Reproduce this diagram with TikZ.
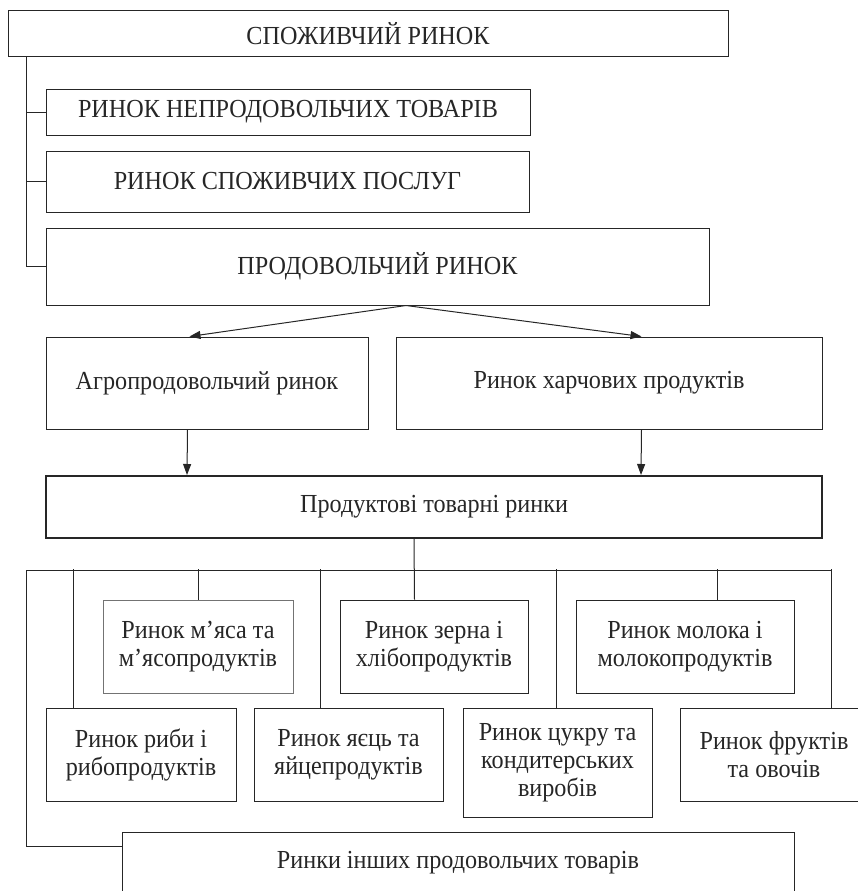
\documentclass[tikz,border=0pt]{standalone}
\usepackage{fontspec}
\setmainfont[FakeStretch=0.93]{Liberation Serif}
\usetikzlibrary{arrows.meta,calc}
\tikzset{
  box/.style={draw=black!85, line width=1pt, inner sep=0pt, align=center, font=\fontsize{26}{28}\selectfont, text=black!85},
  thickbox/.style={box, line width=2pt},
  greybox/.style={box, draw=black!55},
  link/.style={line width=1pt, draw=black!85},
  arr/.style={line width=1pt, draw=black!85, -{Triangle[length=11pt,width=8pt]}}
}
\begin{document}
\begin{tikzpicture}[x=1pt,y=-1pt]
\useasboundingbox (0,0) rectangle (858,891);
\clip (0,0) rectangle (858,891);
\node[box, minimum width=720pt, minimum height=46pt] (top) at (368,34) {СПОЖИВЧИЙ РИНОК};
\node[box, minimum width=484pt, minimum height=46pt] (b1) at (288,112) {РИНОК НЕПРОДОВОЛЬЧИХ ТОВАРІВ};
\node[box, minimum width=483pt, minimum height=61pt] (b2) at (287.5,181.5) {РИНОК СПОЖИВЧИХ ПОСЛУГ};
\node[box, minimum width=663pt, minimum height=77pt] (b3) at (377.5,266.5) {ПРОДОВОЛЬЧИЙ РИНОК};
\node[box, minimum width=322pt, minimum height=92pt] (agro) at (207,383) {Агропродовольчий ринок};
\node[box, minimum width=426pt, minimum height=92pt] (harch) at (609,383) {Ринок харчових продуктів};
\node[thickbox, minimum width=776pt, minimum height=62pt] (prod) at (434,507) {Продуктові товарні ринки};
\node[greybox, minimum width=190pt, minimum height=93pt] (myasa) at (198,646.5) {Ринок м’яса та\\м’ясопродуктів};
\node[box, minimum width=188pt, minimum height=93pt] (zerna) at (434,646.5) {Ринок зерна і\\хлібопродуктів};
\node[box, minimum width=218pt, minimum height=93pt] (moloka) at (685,646.5) {Ринок молока і\\молокопродуктів};
\node[box, minimum width=190pt, minimum height=93pt] (ryby) at (141,754.5) {Ринок риби і\\рибопродуктів};
\node[box, minimum width=189pt, minimum height=93pt] (yaets) at (348.5,754.5) {Ринок яєць та\\яйцепродуктів};
\node[box, minimum width=189pt, minimum height=109pt] (tsukru) at (557.5,762.5) {Ринок цукру та\\кондитерських\\виробів};
\node[box, minimum width=188pt, minimum height=93pt] (frukt) at (774,754.5) {Ринок фруктів\\та овочів};
\node[box, minimum width=672pt, minimum height=61pt] (inshi) at (458,862.5) {Ринки інших продовольчих товарів};

% upper trunk
\coordinate (t0) at ($(top.south west)+(19,0)$);
\draw[link] (t0) |- (b3.west);
\draw[link] (t0 |- b1.west) -- (b1.west);
\draw[link] (t0 |- b2.west) -- (b2.west);

% arrows
\coordinate (apex) at ($(b3.south)+(28.5,0)$);
\draw[arr] (apex) -- ($(agro.north west)+(144,0)$);
\draw[arr] (apex) -- ($(harch.north west)+(246,0)$);
\draw[arr] ($(agro.south west)+(142,0)$) -- ($(prod.north west)+(142,0)$);
\draw[arr] ($(harch.south west)+(246,0)$) -- ($(prod.north west)+(596,0)$);

% lower tree
\coordinate (bus) at ($(prod.south west)+(0,31)$);
\coordinate (busL) at ($(bus)+(-19,0)$);
\coordinate (busR) at ($(bus)+(786,0)$);
\draw[link] ($(zerna.north west)+(75,0)$) -- ($(prod.south west)+(369,0)$);
\draw[link] (busL) -- (busR);
\draw[link] (busL) |- ($(inshi.north west)+(0,15)$);
\draw[link] ($(ryby.north west)+(28,0)$) -- ++(0,-139);
\draw[link] (myasa.north) -- ++(0,-31);
\draw[link] ($(yaets.north west)+(67,0)$) -- ++(0,-139);
\draw[link] ($(tsukru.north west)+(94,0)$) -- ++(0,-139);
\draw[link] ($(moloka.north west)+(142,0)$) -- ++(0,-31);
\draw[link] ($(frukt.north west)+(152,0)$) -- ++(0,-139);
\end{tikzpicture}
\end{document}
